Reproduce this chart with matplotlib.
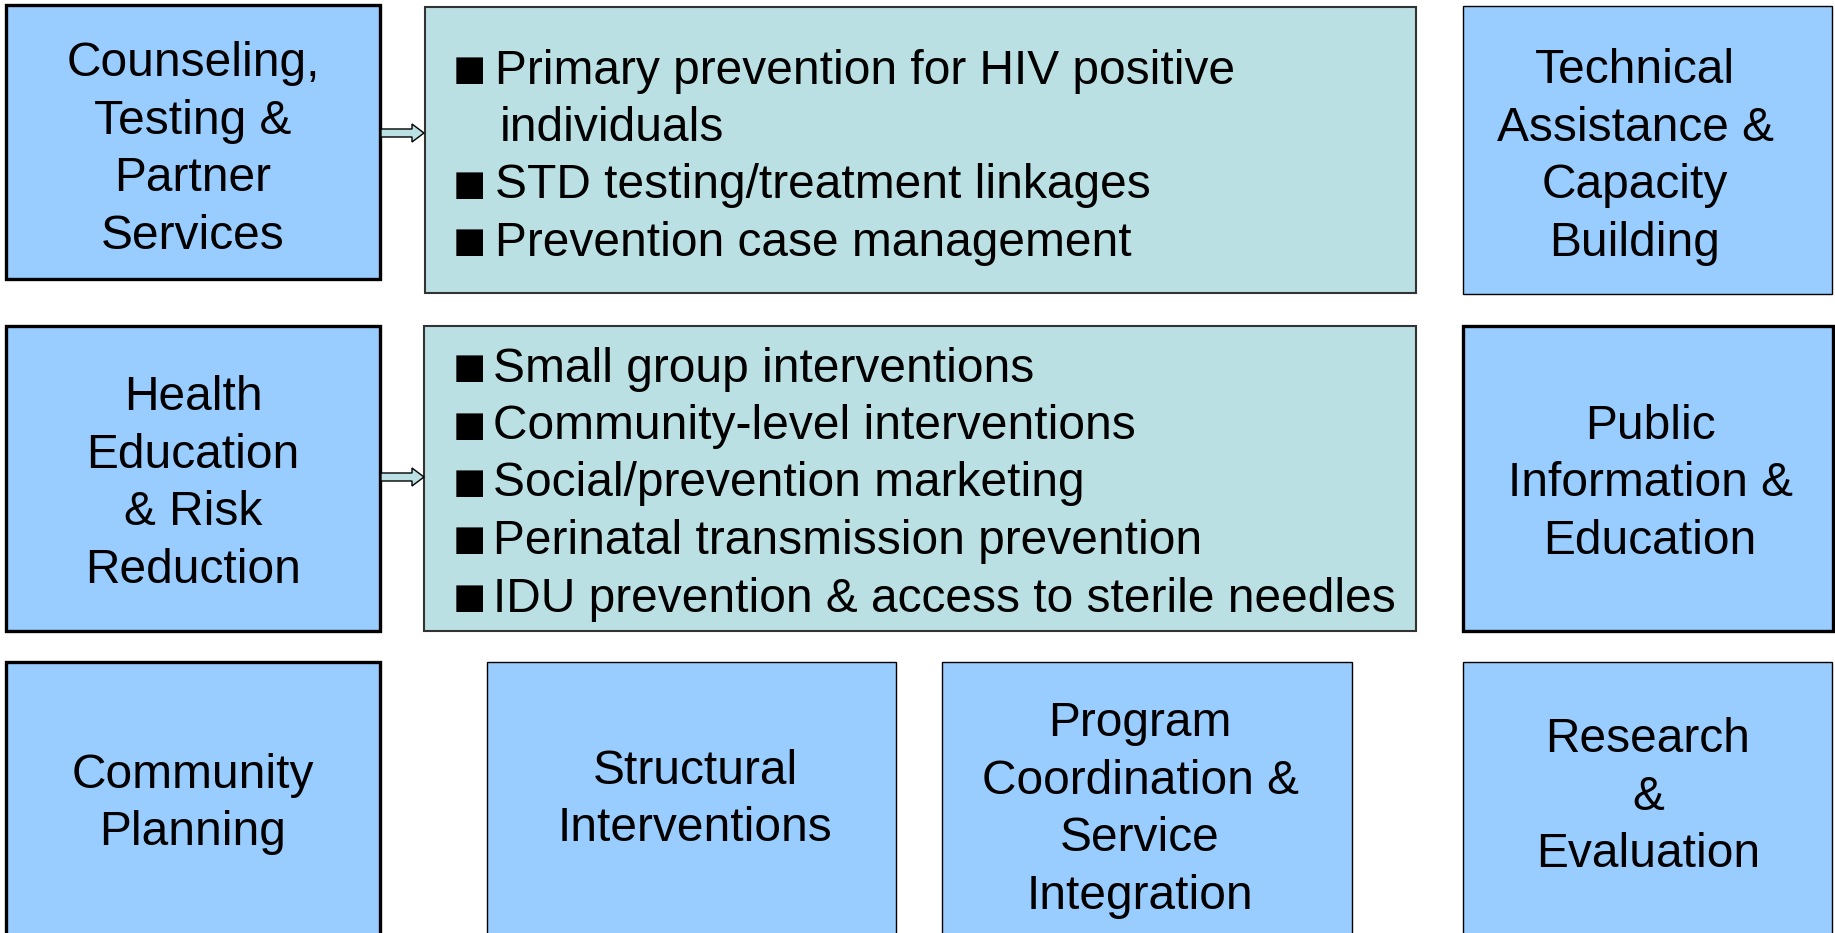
# HIV prevention program components — diagram rebuilt with matplotlib
import matplotlib
matplotlib.use("Agg")
import matplotlib.pyplot as plt
from matplotlib.patches import Rectangle, FancyArrow

plt.rcParams["font.family"] = ["Liberation Sans", "DejaVu Sans"]

# ---- content ----
left_labels = [
    ["Counseling,", "Testing &", "Partner", "Services"],
    ["Health", "Education", "& Risk", "Reduction"],
    ["Community", "Planning"],
]
right_labels = [
    ["Technical", "Assistance &", "Capacity", "Building"],
    ["Public", "Information &", "Education"],
    ["Research", "&", "Evaluation"],
]
middle_labels = [
    ["Structural", "Interventions"],
    ["Program", "Coordination &", "Service", "Integration"],
]
bullets_top = [
    ["Primary prevention for HIV positive", "individuals"],
    ["STD testing/treatment linkages"],
    ["Prevention case management"],
]
bullets_mid = [
    ["Small group interventions"],
    ["Community-level interventions"],
    ["Social/prevention marketing"],
    ["Perinatal transmission prevention"],
    ["IDU prevention & access to sterile needles"],
]

# ---- style ----
BLUE = "#99CCFF"
TEAL = "#BBE0E3"
FS = 34.5
LINE = 57.5
DY = 4  # ajuste vertical del texto

W, H = 1835, 933
fig = plt.figure(figsize=(W / 100, H / 100), dpi=100)
ax = fig.add_axes([0, 0, 1, 1])
ax.set_xlim(0, W)
ax.set_ylim(H, 0)
ax.axis("off")


def caja(x0, y0, x1, y1, color, lw, ec="black"):
    ax.add_patch(Rectangle((x0, y0), x1 - x0, y1 - y0, facecolor=color,
                           edgecolor=ec, linewidth=lw, zorder=1))


def rotulo(lineas, cx, cy):
    # centra las líneas verticalmente en cy
    n = len(lineas)
    for i, t in enumerate(lineas):
        y = cy + DY + (i - (n - 1) / 2) * LINE
        ax.text(cx, y, t, ha="center", va="center", fontsize=FS, zorder=3)


def lista(items, x_bala, x_txt, y0):
    y = y0 + DY
    for item in items:
        ax.text(x_bala, y + 2, "\u25A0", ha="left", va="center", fontsize=FS * 1.15, zorder=3)
        for k, t in enumerate(item):
            ax.text(x_txt + (5 if k else 0), y, t, ha="left", va="center",
                    fontsize=FS, zorder=3)
            y += LINE
    return y


# fila 1
caja(6, 5, 380, 279, BLUE, 2.4)
caja(425, 7, 1416, 293, TEAL, 1.5, "#333333")
caja(1463, 6, 1832, 294, BLUE, 1.0)
rotulo(left_labels[0], 193, 146)
lista(bullets_top, 453, 495, 67)
rotulo(right_labels[0], 1635, 153)

# fila 2
caja(6, 326, 380, 631, BLUE, 2.4)
caja(424, 326, 1416, 631, TEAL, 1.5, "#333333")
caja(1463, 326, 1833, 631, BLUE, 2.4)
rotulo(left_labels[1], 193, 480)
lista(bullets_mid, 453, 493, 365)
rotulo(right_labels[1], 1650, 480)

# fila 3
caja(6, 662, 380, 945, BLUE, 2.4)
caja(487, 662, 896, 945, BLUE, 1.0)
caja(942, 662, 1352, 945, BLUE, 1.0)
caja(1463, 662, 1832, 945, BLUE, 1.0)
rotulo(left_labels[2], 193, 800)
rotulo(middle_labels[0], 695, 796)
rotulo(middle_labels[1], 1140, 806)
rotulo(right_labels[2], 1648, 793)

# flechas de bloque
for y in (133, 477):
    ax.add_patch(FancyArrow(381, y, 43, 0, width=8, head_width=18, head_length=12,
                            length_includes_head=True, facecolor=TEAL,
                            edgecolor="black", linewidth=1.0, zorder=2))

fig.savefig("out.png", dpi=100)
plt.close(fig)
